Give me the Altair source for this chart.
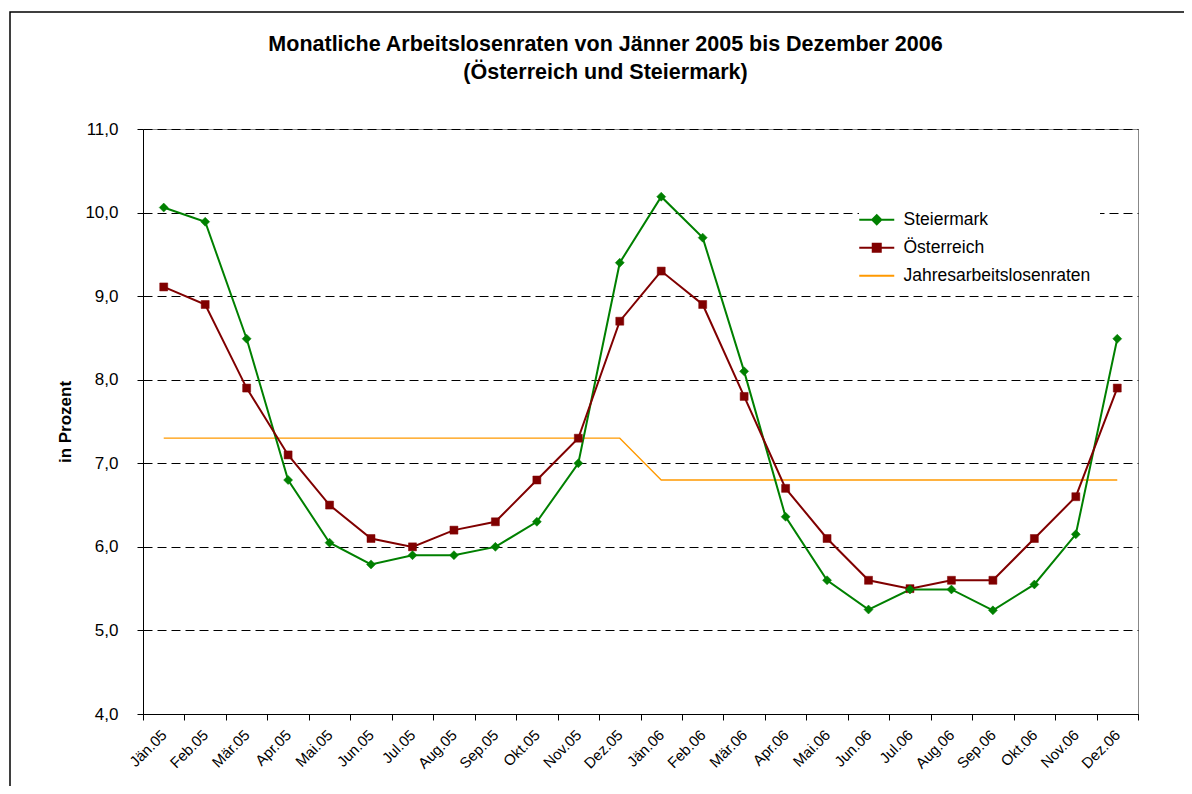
import altair as alt
import pandas as pd

months = ["Jän.05", "Feb.05", "Mär.05", "Apr.05", "Mai.05", "Jun.05", "Jul.05", "Aug.05",
          "Sep.05", "Okt.05", "Nov.05", "Dez.05", "Jän.06", "Feb.06", "Mär.06", "Apr.06",
          "Mai.06", "Jun.06", "Jul.06", "Aug.06", "Sep.06", "Okt.06", "Nov.06", "Dez.06"]

steiermark = [10.06, 9.89, 8.49, 6.8, 6.05, 5.79, 5.9, 5.9, 6.0, 6.3, 7.0, 9.4,
              10.19, 9.7, 8.1, 6.36, 5.6, 5.25, 5.49, 5.49, 5.24, 5.55, 6.15, 8.49]
oesterreich = [9.11, 8.9, 7.9, 7.1, 6.5, 6.1, 6.0, 6.2, 6.3, 6.8, 7.3, 8.7,
               9.3, 8.9, 7.8, 6.7, 6.1, 5.6, 5.5, 5.6, 5.6, 6.1, 6.6, 7.9]
jahresrate = [7.3] * 12 + [6.8] * 12

series_names = ["Steiermark", "Österreich", "Jahresarbeitslosenraten"]
series_colors = ["#008000", "#800000", "#FF9900"]

rows = []
for name, vals in zip(series_names, [steiermark, oesterreich, jahresrate]):
    for m, v in zip(months, vals):
        rows.append({"Monat": m, "Reihe": name, "Wert": v})
df = pd.DataFrame(rows)

# legend symbols: line segment + marker (custom SVG paths, 5px per unit at size 100)
legend_paths = [
    "M-3.5,0H3.5M-0.9,0L0,-0.9L0.9,0L0,0.9Z",
    "M-3.5,0H3.5M-0.8,-0.8H0.8V0.8H-0.8Z",
    "M-3.5,0H3.5",
]

FONT = "Liberation Sans"

x_enc = alt.X("Monat:N", sort=months, bandPosition=0.5,
              scale=alt.Scale(type="band", paddingInner=0, paddingOuter=0),
              axis=alt.Axis(title=None, labelAngle=-45, labelFontSize=15, labelColor="black",
                            tickBand="extent", tickSize=6, tickColor="black",
                            domainColor="black", labelPadding=7, labelOffset=-5, grid=False))
y_enc = alt.Y("Wert:Q",
              scale=alt.Scale(domain=[4, 11], nice=False, zero=False),
              axis=alt.Axis(title="in Prozent", values=[4, 5, 6, 7, 8, 9, 10, 11],
                            labelExpr="replace(format(datum.value, '.1f'), '.', ',')",
                            labelFontSize=17, labelColor="black", labelPadding=19,
                            titleFontSize=17, titleFontWeight="bold", titleColor="black",
                            titlePadding=10, tickSize=6, tickColor="black",
                            domainColor="black", grid=True, gridColor="black",
                            gridDash=[9, 5], gridWidth=1))

legend = alt.Legend(title=None, orient="none", legendX=716, legendY=73,
                    fillColor="white", padding=9, symbolSize=100,
                    labelFontSize=17.5, labelColor="black", labelFont=FONT, labelLimit=0,
                    labelOffset=18, rowPadding=9,
                    symbolStrokeWidth=2, symbolOpacity=1)

stroke_scale = alt.Scale(domain=series_names, range=series_colors)

base = alt.Chart(df)

lines_main = base.transform_filter(
    alt.FieldOneOfPredicate(field="Reihe", oneOf=["Steiermark", "Österreich"])
).mark_line(strokeWidth=2).encode(
    x=x_enc, y=y_enc,
    stroke=alt.Stroke("Reihe:N", scale=stroke_scale, legend=legend),
    detail="Reihe:N",
)

line_jahr = base.transform_filter(
    alt.datum.Reihe == "Jahresarbeitslosenraten"
).mark_line(strokeWidth=1.3).encode(
    x=x_enc, y=y_enc,
    stroke=alt.Stroke("Reihe:N", scale=stroke_scale, legend=legend),
)

pts_st = base.transform_filter(alt.datum.Reihe == "Steiermark").mark_point(
    shape="diamond", filled=True, size=81, opacity=1, fill="#008000", stroke="#008000", strokeWidth=0.5
).encode(x=x_enc, y=y_enc)

pts_oe = base.transform_filter(alt.datum.Reihe == "Österreich").mark_point(
    shape="square", filled=True, size=64, opacity=1, fill="#800000", stroke="#800000", strokeWidth=0.5
).encode(x=x_enc, y=y_enc)

legend_layer = base.transform_filter("false").mark_point(filled=True, opacity=1).encode(
    x=x_enc, y=y_enc,
    stroke=alt.Stroke("Reihe:N", scale=stroke_scale, legend=legend),
    fill=alt.Fill("Reihe:N", scale=alt.Scale(domain=series_names, range=series_colors), legend=legend),
    shape=alt.Shape("Reihe:N", scale=alt.Scale(domain=series_names, range=legend_paths), legend=legend),
)

frame = alt.Chart(alt.Data(values=[{}])).mark_rect(
    fill=None, stroke="black", strokeWidth=1.5
).encode(x=alt.value(-133), x2=alt.value(1100), y=alt.value(-117), y2=alt.value(720))

chart = alt.layer(frame, line_jahr, lines_main, pts_oe, pts_st, legend_layer).properties(
    width=995, height=585,
    title=alt.TitleParams(
        text=["Monatliche Arbeitslosenraten von Jänner 2005 bis Dezember 2006",
              "(Österreich und Steiermark)"],
        fontSize=21.5, fontWeight="bold", color="black", font=FONT,
        anchor="middle", frame="group", dx=-35, offset=-72, lineHeight=28,
    ),
    autosize=alt.AutoSizeParams(type="none"),
    padding={"left": 135, "top": 121, "right": 46, "bottom": 72},
).configure(font=FONT).configure_view(
    stroke="#888888", strokeWidth=1
).configure_axis(labelFont=FONT, titleFont=FONT
).configure_legend(labelFont=FONT)

chart.save("out.html", embed_options={"renderer": "svg", "actions": False})
